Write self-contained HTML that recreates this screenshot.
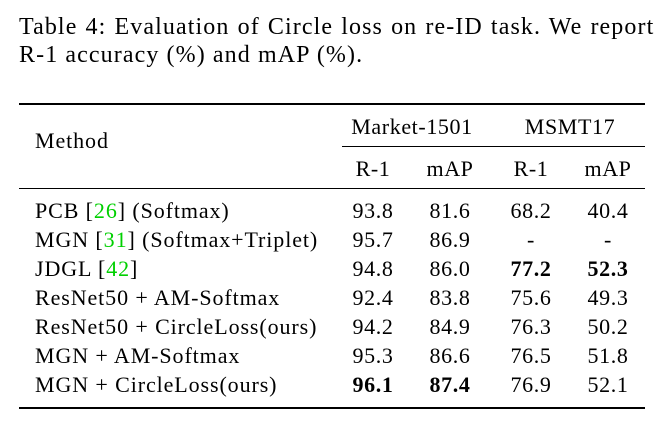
<!DOCTYPE html>
<html><head><style>
body{margin:0;width:661px;height:430px;background:#fff;font-family:"Liberation Serif",serif;color:#000;position:relative;overflow:hidden}
.t{position:absolute;font-size:24px;line-height:1.107;white-space:nowrap;letter-spacing:1.1px}
.r{position:absolute;background:#000;left:19px;width:626px}
.c{position:absolute;font-size:22px;line-height:1.107;white-space:nowrap;transform:translateX(-50%);letter-spacing:0.6px}
.m{position:absolute;left:35px;font-size:22px;line-height:1.107;white-space:nowrap;letter-spacing:0.9px}
.g{color:#00d000}
b{font-weight:bold}
</style></head><body>
<div class="t" style="left:19px;top:14px;word-spacing:1px">Table 4: Evaluation of Circle loss on re-ID task. We report</div>
<div class="t" style="left:19px;top:42px">R-1 accuracy (%) and mAP (%).</div>
<div class="r" style="top:103px;height:2px"></div>
<div class="r" style="top:146px;height:1px;left:342px;width:303px"></div>
<div class="r" style="top:188px;height:1px"></div>
<div class="r" style="top:407px;height:2px"></div>
<div class="m" style="top:129px">Method</div>
<div class="c" style="left:412px;top:115px">Market-1501</div>
<div class="c" style="left:570px;top:115px">MSMT17</div>
<div class="c" style="left:373px;top:157px">R-1</div>
<div class="c" style="left:450px;top:157px">mAP</div>
<div class="c" style="left:531px;top:157px">R-1</div>
<div class="c" style="left:608px;top:157px">mAP</div>

<div class="m" style="top:199px">PCB [<span class="g">26</span>] (Softmax)</div>
<div class="c" style="left:373px;top:199px">93.8</div><div class="c" style="left:450px;top:199px">81.6</div><div class="c" style="left:531px;top:199px">68.2</div><div class="c" style="left:608px;top:199px">40.4</div>

<div class="m" style="top:228px">MGN [<span class="g">31</span>] (Softmax+Triplet)</div>
<div class="c" style="left:373px;top:228px">95.7</div><div class="c" style="left:450px;top:228px">86.9</div><div class="c" style="left:531px;top:228px">-</div><div class="c" style="left:608px;top:228px">-</div>

<div class="m" style="top:257px">JDGL [<span class="g">42</span>]</div>
<div class="c" style="left:373px;top:257px">94.8</div><div class="c" style="left:450px;top:257px">86.0</div><div class="c" style="left:531px;top:257px"><b>77.2</b></div><div class="c" style="left:608px;top:257px"><b>52.3</b></div>

<div class="m" style="top:286px">ResNet50 + AM-Softmax</div>
<div class="c" style="left:373px;top:286px">92.4</div><div class="c" style="left:450px;top:286px">83.8</div><div class="c" style="left:531px;top:286px">75.6</div><div class="c" style="left:608px;top:286px">49.3</div>

<div class="m" style="top:315px">ResNet50 + CircleLoss(ours)</div>
<div class="c" style="left:373px;top:315px">94.2</div><div class="c" style="left:450px;top:315px">84.9</div><div class="c" style="left:531px;top:315px">76.3</div><div class="c" style="left:608px;top:315px">50.2</div>

<div class="m" style="top:344px">MGN + AM-Softmax</div>
<div class="c" style="left:373px;top:344px">95.3</div><div class="c" style="left:450px;top:344px">86.6</div><div class="c" style="left:531px;top:344px">76.5</div><div class="c" style="left:608px;top:344px">51.8</div>

<div class="m" style="top:373px">MGN + CircleLoss(ours)</div>
<div class="c" style="left:373px;top:373px"><b>96.1</b></div><div class="c" style="left:450px;top:373px"><b>87.4</b></div><div class="c" style="left:531px;top:373px">76.9</div><div class="c" style="left:608px;top:373px">52.1</div>
</body></html>
